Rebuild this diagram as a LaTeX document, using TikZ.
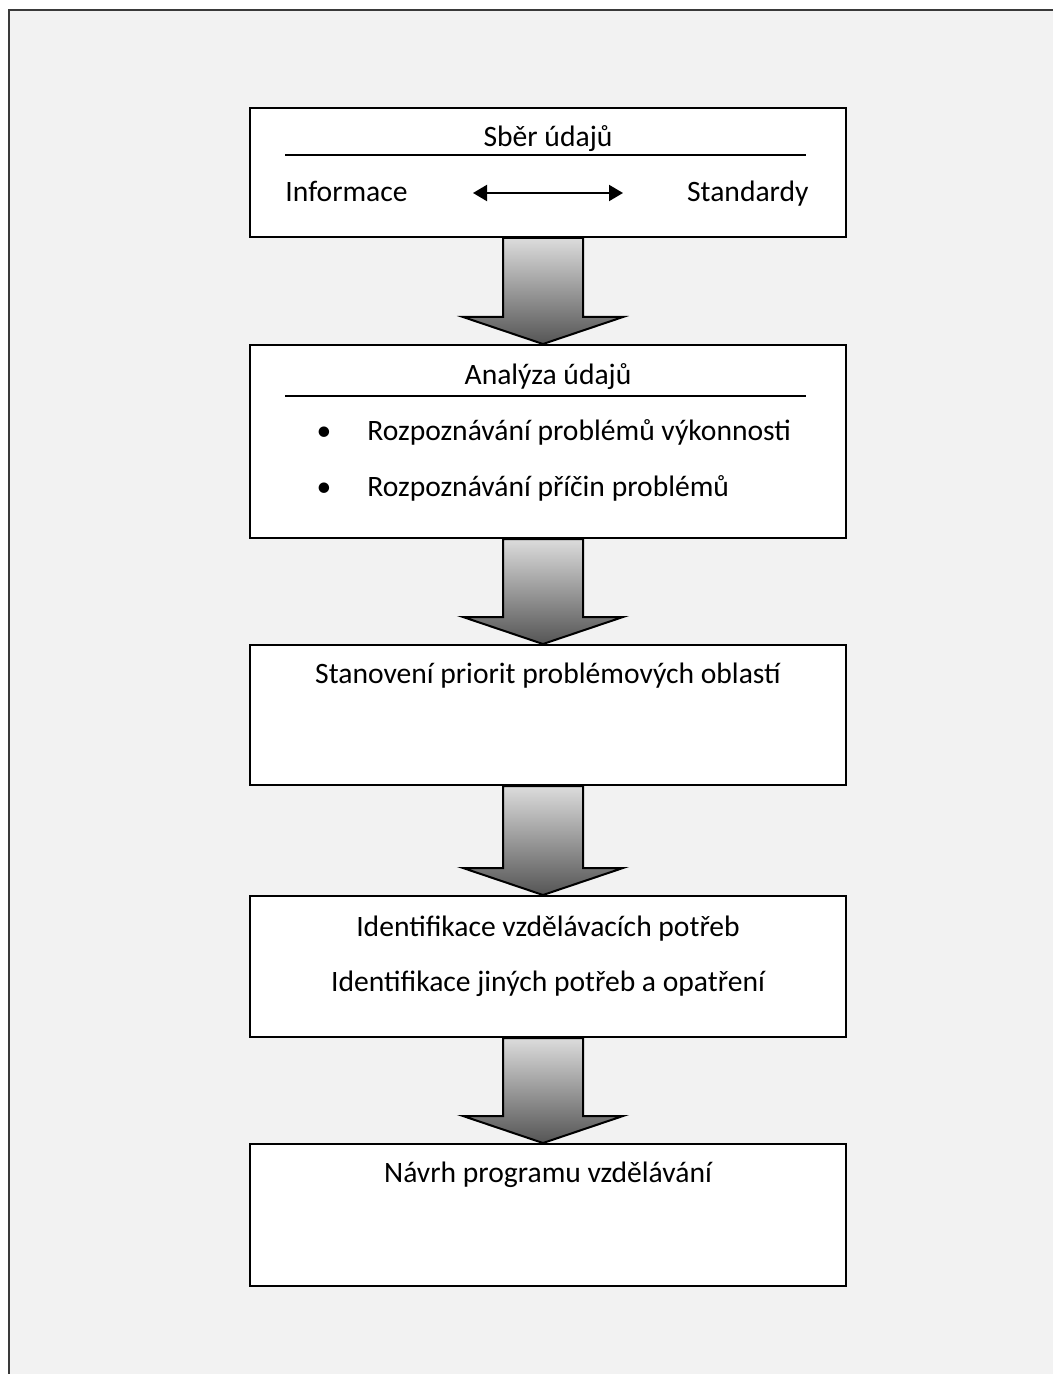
\documentclass[tikz,border=0pt]{standalone}
\usepackage{fontspec}
\setmainfont{Carlito}
\usetikzlibrary{calc,arrows.meta}
\definecolor{bgcol}{HTML}{F2F2F2}
\definecolor{framecol}{HTML}{3A3A3A}
\definecolor{arrtop}{HTML}{DCDCDC}
\definecolor{arrbot}{HTML}{555555}
\tikzset{
  stagebox/.style={draw=black, line width=1pt, fill=white, minimum width=298pt, inner sep=0pt},
  lbl/.style={inner sep=0pt, anchor=base, font=\fontsize{14.8pt}{17pt}\selectfont},
  rulel/.style={draw=black, line width=0.6pt},
  blockarrow/.style={draw=black, line width=1pt, line join=miter, top color=arrtop, bottom color=arrbot},
  dblarrow/.style={draw=black, line width=1pt, {Triangle[length=7pt,width=8pt]}-{Triangle[length=7pt,width=8pt]}}
}
\newcommand{\stagearrow}[2]{%
  \path[blockarrow] ($(#1.south)+(-45,0)$) -- ($(#1.south)+(35,0)$)
    -- ($(#2.north)+(35,-27)$) -- ($(#2.north)+(75,-27)$)
    -- ($(#2.north)+(-5,0)$) -- ($(#2.north)+(-85,-27)$)
    -- ($(#2.north)+(-45,-27)$) -- cycle;}
\begin{document}
\begin{tikzpicture}[x=0.5pt,y=-0.5pt]
\useasboundingbox (0,0) rectangle (1053,1374);
% outer frame
\fill[bgcol] (9,10) rectangle (1053,1374);
\draw[framecol, line width=1pt] (9,1374) -- (9,10) -- (1053,10);
% boxes
\node[stagebox, minimum height=64.5pt] (b1) at (548,172.5) {};
\node[stagebox, minimum height=96.5pt] (b2) at (548,441.5) {};
\node[stagebox, minimum height=70pt] (b3) at (548,715) {};
\node[stagebox, minimum height=70.5pt] (b4) at (548,966.5) {};
\node[stagebox, minimum height=71pt] (b5) at (548,1215) {};
% box 1
\node[lbl] (t1) at (548,147) {Sběr údajů};
\coordinate (r1a) at (285,155);
\coordinate (r1b) at (806,155);
\draw[rulel] (r1a) -- (r1b);
\node[lbl, anchor=base west] (inf) at (285,202) {Informace};
\node[lbl, anchor=base east] (std) at (809,202) {Standardy};
\coordinate (da) at (473,193);
\coordinate (db) at (623,193);
\draw[dblarrow] (da) -- (db);
% box 2
\node[lbl] (t2) at (548,384) {Analýza údajů};
\coordinate (r2a) at (285,396);
\coordinate (r2b) at (806,396);
\draw[rulel] (r2a) -- (r2b);
\node[lbl] (bu1) at (324,440) {\textbullet};
\node[lbl, anchor=base west] (i1) at (367,440) {Rozpoznávání problémů výkonnosti};
\node[lbl] (bu2) at (324,496) {\textbullet};
\node[lbl, anchor=base west] (i2) at (367,496) {Rozpoznávání příčin problémů};
% box 3
\node[lbl] (t3) at (548,683) {Stanovení priorit problémových oblastí};
% box 4
\node[lbl] (t4a) at (548,936) {Identifikace vzdělávacích potřeb};
\node[lbl] (t4b) at (548,991) {Identifikace jiných potřeb a opatření};
% box 5
\node[lbl] (t5) at (548,1182) {Návrh programu vzdělávání};
% arrows
\stagearrow{b1}{b2}
\stagearrow{b2}{b3}
\stagearrow{b3}{b4}
\stagearrow{b4}{b5}
\end{tikzpicture}
\end{document}
